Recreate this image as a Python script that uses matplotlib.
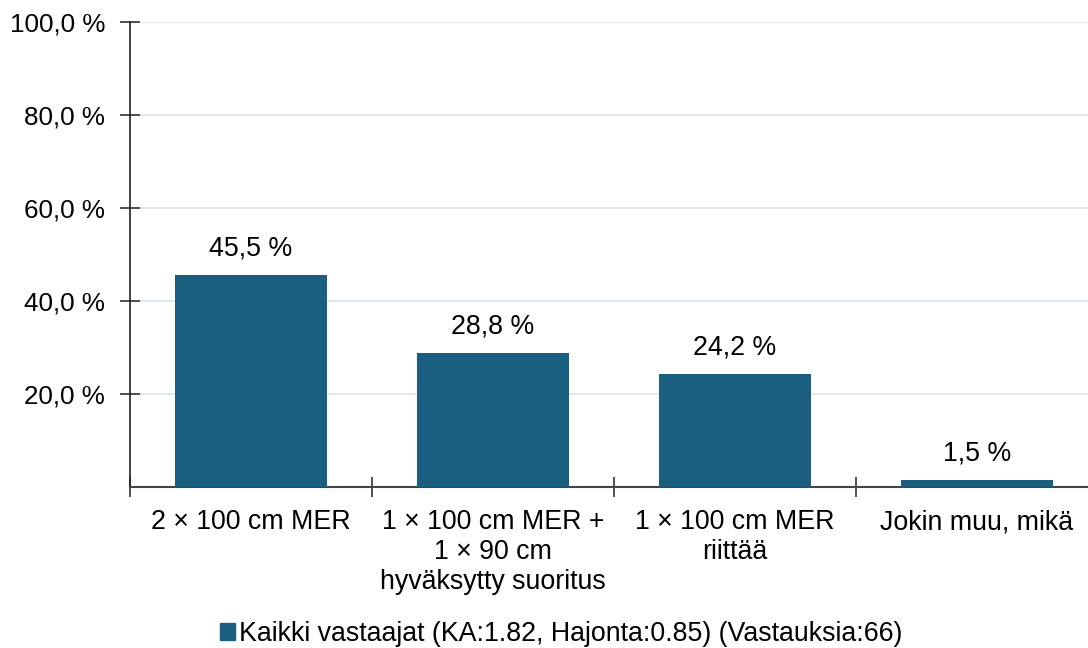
import matplotlib.pyplot as plt
from matplotlib.patches import Rectangle

categories = [
    "2 × 100 cm MER",
    "1 × 100 cm MER +\n1 × 90 cm\nhyväksytty suoritus",
    "1 × 100 cm MER\nriittää",
    "Jokin muu, mikä",
]
values = [45.5, 28.8, 24.2, 1.5]
y_ticks = [20, 40, 60, 80, 100]
legend_label = "Kaikki vastaajat (KA:1.82, Hajonta:0.85) (Vastauksia:66)"

BAR_COLOR = "#1a5f80"
GRID_COLOR = "#dce3ec"

plt.rcParams["font.family"] = ["Liberation Sans", "DejaVu Sans"]
plt.rcParams["font.size"] = 19.3

W, H = 1088, 648
fig = plt.figure(figsize=(W / 100, H / 100), dpi=100)
ax = fig.add_axes([130 / W, 1 - 487 / H, 968 / W, 465 / H])

x = range(len(categories))
ax.bar(x, values, width=0.63, color=BAR_COLOR, zorder=3)
for xi, v in zip(x, values):
    ax.annotate(f"{v:.1f} %".replace(".", ","), (xi, v), xytext=(0, 10),
                textcoords="offset points", ha="center", va="bottom")

ax.set_xlim(-0.5, len(categories) - 0.5)
ax.set_ylim(0, 100)
ax.set_yticks(y_ticks)
ax.set_yticklabels([f"{t:.1f} %".replace(".", ",") for t in y_ticks], fontsize=18.7)
ax.yaxis.grid(True, color=GRID_COLOR, linewidth=1.2, zorder=0)

ax.set_xticks([i - 0.5 for i in x], minor=False)
ax.set_xticklabels([])
ax.set_xticks(list(x), minor=True)
ax.set_xticklabels(categories, minor=True, linespacing=1.2, va="top")
ax.tick_params(axis="x", which="minor", length=0, pad=16)
ax.tick_params(axis="x", which="major", direction="inout", length=14, width=1.2, color="#333333")
ax.tick_params(axis="y", direction="inout", length=14, width=1.2, color="#333333", pad=11)

for side in ["top", "right"]:
    ax.spines[side].set_visible(False)
ax.spines["left"].set_color("#222222")
ax.spines["bottom"].set_color("#444444")
ax.spines["left"].set_linewidth(1.2)
ax.spines["bottom"].set_linewidth(1.5)

handle = Rectangle((0, 0), 1, 1, color=BAR_COLOR)
fig.legend([handle], [legend_label], loc="center", bbox_to_anchor=(561 / W, 1 - 634 / H),
           frameon=False, handlelength=0.55, handleheight=0.55, handletextpad=0.15, borderpad=0)

fig.savefig("out.png", dpi=100)
